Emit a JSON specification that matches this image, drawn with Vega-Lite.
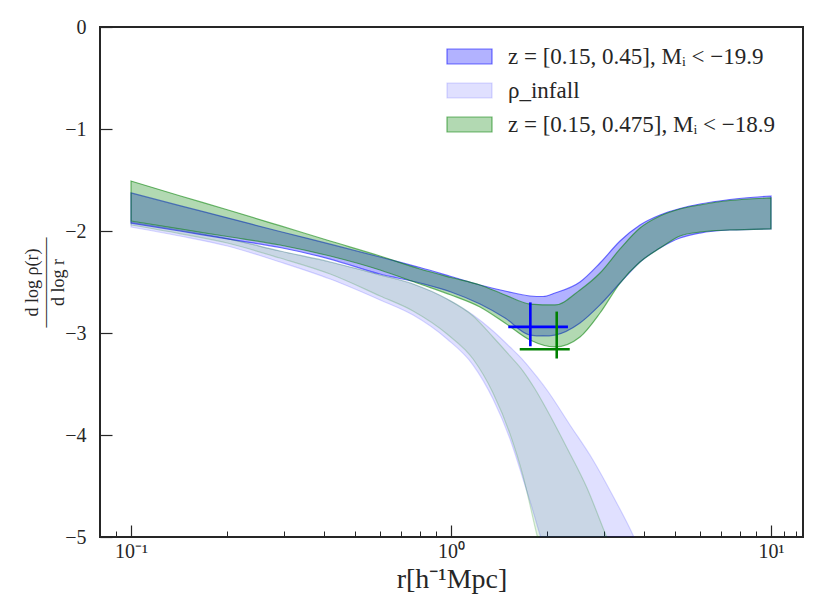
{
  "$schema": "https://vega.github.io/schema/vega-lite/v6.json",
  "width": 703,
  "height": 510,
  "autosize": {"type": "none"},
  "padding": {"left": 100, "top": 27, "right": 19, "bottom": 79},
  "background": "white",
  "config": {
    "view": {"stroke": "#262626", "strokeWidth": 2},
    "axis": {"domain": false, "grid": false, "labelFont": "Liberation Serif", "titleFont": "Liberation Serif", "labelColor": "#262626", "titleColor": "#262626", "tickColor": "#262626", "titleFontWeight": "normal"},
    "legend": {"orient": "none", "legendX": 358, "legendY": 18, "title": null, "symbolType": "M-3,-1H3V1H-3Z", "symbolSize": 225, "symbolStrokeWidth": 1.2, "labelFont": "Liberation Serif", "labelFontSize": 23, "labelColor": "#262626", "labelOffset": 27, "rowPadding": 10, "padding": 0, "labelLimit": 400}
  },
  "datasets": {
    "blueBand": [
      {"series": "z = [0.15, 0.45], Mᵢ < −19.9", "r": 0.1, "hi": -1.627, "lo": -1.922},
      {"series": "z = [0.15, 0.45], Mᵢ < −19.9", "r": 0.142, "hi": -1.752, "lo": -2.0},
      {"series": "z = [0.15, 0.45], Mᵢ < −19.9", "r": 0.2, "hi": -1.871, "lo": -2.078},
      {"series": "z = [0.15, 0.45], Mᵢ < −19.9", "r": 0.292, "hi": -2.005, "lo": -2.162},
      {"series": "z = [0.15, 0.45], Mᵢ < −19.9", "r": 0.419, "hi": -2.129, "lo": -2.275},
      {"series": "z = [0.15, 0.45], Mᵢ < −19.9", "r": 0.6, "hi": -2.255, "lo": -2.422},
      {"series": "z = [0.15, 0.45], Mᵢ < −19.9", "r": 0.8, "hi": -2.358, "lo": -2.51},
      {"series": "z = [0.15, 0.45], Mᵢ < −19.9", "r": 1.0, "hi": -2.446, "lo": -2.598},
      {"series": "z = [0.15, 0.45], Mᵢ < −19.9", "r": 1.232, "hi": -2.529, "lo": -2.716},
      {"series": "z = [0.15, 0.45], Mᵢ < −19.9", "r": 1.475, "hi": -2.588, "lo": -2.853},
      {"series": "z = [0.15, 0.45], Mᵢ < −19.9", "r": 1.766, "hi": -2.637, "lo": -3.02},
      {"series": "z = [0.15, 0.45], Mᵢ < −19.9", "r": 1.94, "hi": -2.642, "lo": -3.029},
      {"series": "z = [0.15, 0.45], Mᵢ < −19.9", "r": 2.113, "hi": -2.608, "lo": -3.02},
      {"series": "z = [0.15, 0.45], Mᵢ < −19.9", "r": 2.53, "hi": -2.5, "lo": -2.902},
      {"series": "z = [0.15, 0.45], Mᵢ < −19.9", "r": 2.922, "hi": -2.314, "lo": -2.725},
      {"series": "z = [0.15, 0.45], Mᵢ < −19.9", "r": 3.375, "hi": -2.098, "lo": -2.51},
      {"series": "z = [0.15, 0.45], Mᵢ < −19.9", "r": 3.896, "hi": -1.941, "lo": -2.304},
      {"series": "z = [0.15, 0.45], Mᵢ < −19.9", "r": 4.499, "hi": -1.843, "lo": -2.167},
      {"series": "z = [0.15, 0.45], Mᵢ < −19.9", "r": 5.195, "hi": -1.779, "lo": -2.069},
      {"series": "z = [0.15, 0.45], Mᵢ < −19.9", "r": 6.0, "hi": -1.735, "lo": -2.02},
      {"series": "z = [0.15, 0.45], Mᵢ < −19.9", "r": 7.443, "hi": -1.691, "lo": -1.99},
      {"series": "z = [0.15, 0.45], Mᵢ < −19.9", "r": 10, "hi": -1.657, "lo": -1.98}
    ],
    "blueInfall": [
      {"series": "ρ_infall", "r": 0.1, "hi": -1.912, "lo": -1.961},
      {"series": "ρ_infall", "r": 0.142, "hi": -1.99, "lo": -2.049},
      {"series": "ρ_infall", "r": 0.2, "hi": -2.074, "lo": -2.147},
      {"series": "ρ_infall", "r": 0.292, "hi": -2.196, "lo": -2.304},
      {"series": "ρ_infall", "r": 0.419, "hi": -2.304, "lo": -2.471},
      {"series": "ρ_infall", "r": 0.6, "hi": -2.431, "lo": -2.676},
      {"series": "ρ_infall", "r": 0.761, "hi": -2.52, "lo": -2.824},
      {"series": "ρ_infall", "r": 0.972, "hi": -2.667, "lo": -3.059},
      {"series": "ρ_infall", "r": 1.172, "hi": -2.824, "lo": -3.314},
      {"series": "ρ_infall", "r": 1.353, "hi": -2.98, "lo": -3.647},
      {"series": "ρ_infall", "r": 1.529, "hi": -3.137, "lo": -4.039},
      {"series": "ρ_infall", "r": 1.679, "hi": -3.265, "lo": -4.431},
      {"series": "ρ_infall", "r": 1.857, "hi": -3.431, "lo": -4.882},
      {"series": "ρ_infall", "r": 1.995, "hi": -3.559, "lo": -5.245},
      {"series": "ρ_infall", "r": 2.354, "hi": -3.902, "lo": -7.0},
      {"series": "ρ_infall", "r": 2.778, "hi": -4.245, "lo": -7.0},
      {"series": "ρ_infall", "r": 3.208, "hi": -4.598, "lo": -7.0},
      {"series": "ρ_infall", "r": 3.705, "hi": -4.98, "lo": -7.0},
      {"series": "ρ_infall", "r": 4.186, "hi": -5.373, "lo": -7.0}
    ],
    "greenBand": [
      {"series": "z = [0.15, 0.475], Mᵢ < −18.9", "r": 0.1, "hi": -1.51, "lo": -1.902},
      {"series": "z = [0.15, 0.475], Mᵢ < −18.9", "r": 0.142, "hi": -1.654, "lo": -1.98},
      {"series": "z = [0.15, 0.475], Mᵢ < −18.9", "r": 0.2, "hi": -1.792, "lo": -2.054},
      {"series": "z = [0.15, 0.475], Mᵢ < −18.9", "r": 0.292, "hi": -1.948, "lo": -2.137},
      {"series": "z = [0.15, 0.475], Mᵢ < −18.9", "r": 0.419, "hi": -2.098, "lo": -2.245},
      {"series": "z = [0.15, 0.475], Mᵢ < −18.9", "r": 0.6, "hi": -2.245, "lo": -2.382},
      {"series": "z = [0.15, 0.475], Mᵢ < −18.9", "r": 0.8, "hi": -2.373, "lo": -2.52},
      {"series": "z = [0.15, 0.475], Mᵢ < −18.9", "r": 1.0, "hi": -2.456, "lo": -2.627},
      {"series": "z = [0.15, 0.475], Mᵢ < −18.9", "r": 1.232, "hi": -2.529, "lo": -2.745},
      {"series": "z = [0.15, 0.475], Mᵢ < −18.9", "r": 1.475, "hi": -2.627, "lo": -2.902},
      {"series": "z = [0.15, 0.475], Mᵢ < −18.9", "r": 1.766, "hi": -2.716, "lo": -3.069},
      {"series": "z = [0.15, 0.475], Mᵢ < −18.9", "r": 2.113, "hi": -2.725, "lo": -3.137},
      {"series": "z = [0.15, 0.475], Mᵢ < −18.9", "r": 2.53, "hi": -2.578, "lo": -3.039},
      {"series": "z = [0.15, 0.475], Mᵢ < −18.9", "r": 2.922, "hi": -2.412, "lo": -2.804},
      {"series": "z = [0.15, 0.475], Mᵢ < −18.9", "r": 3.375, "hi": -2.176, "lo": -2.51},
      {"series": "z = [0.15, 0.475], Mᵢ < −18.9", "r": 3.896, "hi": -1.971, "lo": -2.304},
      {"series": "z = [0.15, 0.475], Mᵢ < −18.9", "r": 4.499, "hi": -1.853, "lo": -2.167},
      {"series": "z = [0.15, 0.475], Mᵢ < −18.9", "r": 5.195, "hi": -1.784, "lo": -2.049},
      {"series": "z = [0.15, 0.475], Mᵢ < −18.9", "r": 6.0, "hi": -1.745, "lo": -2.01},
      {"series": "z = [0.15, 0.475], Mᵢ < −18.9", "r": 7.443, "hi": -1.701, "lo": -1.99},
      {"series": "z = [0.15, 0.475], Mᵢ < −18.9", "r": 10, "hi": -1.676, "lo": -1.98}
    ],
    "greenInfall": [
      {"r": 0.1, "hi": -1.912, "lo": -1.941},
      {"r": 0.142, "hi": -1.99, "lo": -2.025},
      {"r": 0.2, "hi": -2.074, "lo": -2.118},
      {"r": 0.292, "hi": -2.196, "lo": -2.265},
      {"r": 0.419, "hi": -2.304, "lo": -2.422},
      {"r": 0.6, "hi": -2.431, "lo": -2.637},
      {"r": 0.761, "hi": -2.52, "lo": -2.784},
      {"r": 0.972, "hi": -2.667, "lo": -3.01},
      {"r": 1.172, "hi": -2.833, "lo": -3.255},
      {"r": 1.353, "hi": -3.039, "lo": -3.588},
      {"r": 1.529, "hi": -3.225, "lo": -3.99},
      {"r": 1.679, "hi": -3.373, "lo": -4.402},
      {"r": 1.83, "hi": -3.549, "lo": -4.902},
      {"r": 1.995, "hi": -3.755, "lo": -5.422},
      {"r": 2.304, "hi": -4.127, "lo": -7.0},
      {"r": 2.661, "hi": -4.52, "lo": -7.0},
      {"r": 3.029, "hi": -4.961, "lo": -7.0},
      {"r": 3.374, "hi": -5.324, "lo": -7.0}
    ],
    "errs": [
      {"sample": "A", "r": 1.77, "rlo": 1.51, "rhi": 2.32, "v": -2.94, "vlo": -3.13, "vhi": -2.7},
      {"sample": "B", "r": 2.14, "rlo": 1.64, "rhi": 2.35, "v": -3.16, "vlo": -3.25, "vhi": -2.79}
    ]
  },
  "layer": [
    {
      "data": {"name": "blueBand"},
      "mark": {"type": "area", "orient": "vertical", "interpolate": "monotone", "clip": true, "strokeWidth": 1.2},
      "encoding": {
        "x": {"field": "r", "type": "quantitative", "scale": {"type": "log", "domain": [0.08, 12.59], "nice": false},
          "axis": {"values": [0.1, 1, 10], "labelExpr": "datum.value < 0.5 ? '10⁻¹' : (datum.value < 5 ? '10⁰' : '10¹')", "tickSize": -12, "tickWidth": 1.2, "labelPadding": 16, "labelFontSize": 20, "title": "r[h⁻¹Mpc]", "titleFontSize": 28, "titlePadding": 4}},
        "y": {"field": "hi", "type": "quantitative", "scale": {"domain": [-5, 0], "nice": false, "zero": false},
          "axis": {"values": [0, -1, -2, -3, -4, -5], "format": "d", "tickSize": -12, "tickWidth": 1.2, "labelPadding": 26, "labelFontSize": 20, "title": ["d log ρ(r)", "—————", "d log r"], "titleFontSize": 18, "titleLineHeight": 13, "titlePadding": -3}},
        "y2": {"field": "lo"},
        "fill": {"field": "series", "type": "nominal",
          "scale": {"domain": ["z = [0.15, 0.45], Mᵢ < −19.9", "ρ_infall", "z = [0.15, 0.475], Mᵢ < −18.9"], "range": ["rgba(0,0,255,0.3)", "rgba(0,0,255,0.12)", "rgba(0,128,0,0.3)"]}},
        "stroke": {"field": "series", "type": "nominal",
          "scale": {"domain": ["z = [0.15, 0.45], Mᵢ < −19.9", "ρ_infall", "z = [0.15, 0.475], Mᵢ < −18.9"], "range": ["rgba(0,0,255,0.55)", "rgba(0,0,255,0.15)", "rgba(0,128,0,0.55)"]}}
      }
    },
    {
      "data": {"name": "blueInfall"},
      "mark": {"type": "area", "orient": "vertical", "interpolate": "monotone", "clip": true, "strokeWidth": 1.2},
      "encoding": {
        "x": {"field": "r", "type": "quantitative", "axis": null},
        "y": {"field": "hi", "type": "quantitative"},
        "y2": {"field": "lo"},
        "fill": {"field": "series", "type": "nominal"},
        "stroke": {"field": "series", "type": "nominal"}
      }
    },
    {
      "data": {"name": "greenBand"},
      "mark": {"type": "area", "orient": "vertical", "interpolate": "monotone", "clip": true, "strokeWidth": 1.2},
      "encoding": {
        "x": {"field": "r", "type": "quantitative", "axis": null},
        "y": {"field": "hi", "type": "quantitative"},
        "y2": {"field": "lo"},
        "fill": {"field": "series", "type": "nominal"},
        "stroke": {"field": "series", "type": "nominal"}
      }
    },
    {
      "data": {"name": "greenInfall"},
      "mark": {"type": "area", "orient": "vertical", "interpolate": "monotone", "clip": true, "fill": "#008000", "fillOpacity": 0.1, "stroke": "#008000", "strokeOpacity": 0.2, "strokeWidth": 1.2},
      "encoding": {
        "x": {"field": "r", "type": "quantitative", "axis": null},
        "y": {"field": "hi", "type": "quantitative"},
        "y2": {"field": "lo"}
      }
    },
    {
      "data": {"name": "errs"},
      "mark": {"type": "rule", "strokeWidth": 2.6},
      "encoding": {
        "x": {"field": "rlo", "type": "quantitative", "axis": null},
        "x2": {"field": "rhi"},
        "y": {"field": "v", "type": "quantitative"},
        "color": {"field": "sample", "type": "nominal", "scale": {"domain": ["A", "B"], "range": ["#0000ff", "#008000"]}, "legend": null}
      }
    },
    {
      "data": {"name": "errs"},
      "mark": {"type": "rule", "strokeWidth": 2.6},
      "encoding": {
        "x": {"field": "r", "type": "quantitative",
          "axis": {"orient": "bottom", "values": [0.09, 0.2, 0.3, 0.4, 0.5, 0.6, 0.7, 0.8, 0.9, 2, 3, 4, 5, 6, 7, 8, 9, 11, 12], "labels": false, "title": null, "tickSize": -6, "tickWidth": 1, "domain": false, "grid": false}},
        "y": {"field": "vlo", "type": "quantitative"},
        "y2": {"field": "vhi"},
        "color": {"field": "sample", "type": "nominal", "legend": null}
      }
    }
  ],
  "resolve": {"axis": {"x": "independent"}}
}
